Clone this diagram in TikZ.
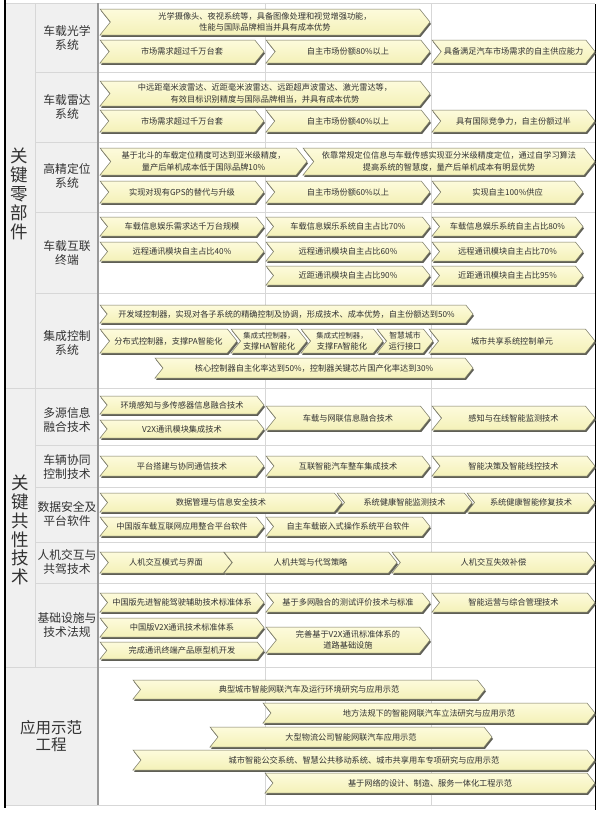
\documentclass[tikz,border=0pt]{standalone}
\usepackage{fontspec}
\setmainfont{Noto Sans CJK SC}
\usetikzlibrary{calc}
\definecolor{chtop}{RGB}{253,251,220}
\definecolor{chbot}{RGB}{244,241,184}
\definecolor{chline}{RGB}{120,120,100}
\definecolor{chshadow}{RGB}{95,95,85}
\definecolor{cellgray}{RGB}{240,240,240}
\definecolor{gridc}{RGB}{215,215,215}
\definecolor{txtc}{RGB}{50,50,50}
\tikzset{
  chshape/.style={top color=chtop, bottom color=chbot, draw=chline, line width=0.5pt, line join=miter},
  chtext/.style={font=\fontsize{8.2}{11.5}\selectfont, text=txtc, align=center, inner sep=0pt},
  catlabel/.style={font=\fontsize{11.8}{14.5}\selectfont, text=txtc, align=center, inner sep=0pt},
  biglabel/.style={font=\fontsize{17.5}{18.9}\selectfont, text=txtc, align=center, inner sep=0pt},
  applabel/.style={font=\fontsize{15.5}{17.5}\selectfont, text=txtc, align=center, inner sep=0pt},
  gridline/.style={draw=gridc, line width=0.8pt},
}
\newcommand\chv[6]{%
  \pgfmathsetmacro\chd{0.4*(#5-#4)}%
  \pgfmathsetmacro\chm{(#4+#5)/2}%
  \fill[chshadow] ({#2+1},{#4+1.9}) -- ({#3-\chd+1},{#4+1.9}) -- ({#3+1},{\chm+1.9}) -- ({#3-\chd+1},{#5+1.9}) -- ({#2+1},{#5+1.9}) -- ({#2+\chd+1},{\chm+1.9}) -- cycle;
  \path[chshape] (#2,#4) -- ({#3-\chd},#4) -- (#3,\chm) -- ({#3-\chd},#5) -- (#2,#5) -- ({#2+\chd},\chm) -- cycle;
  \node[chtext] (#1) at ({(#2+#3)/2},\chm) {#6};
}
\begin{document}
\begin{tikzpicture}[x=1pt,y=-1pt]
\useasboundingbox[fill=white] (0,0) rectangle (600,814);
% backgrounds
\fill[cellgray] (5,3) rectangle (98,805);
% grid
\foreach \yy in {72,142,212,293,445,487,542,583}{\draw[gridline] (35,\yy) -- (595,\yy);}
\foreach \yy in {3,388,667,805}{\draw[gridline] (5,\yy) -- (595,\yy);}
\draw[gridline] (35,3) -- (35,667);
\draw[gridline] (265,3) -- (265,805);
\draw[gridline] (431,3) -- (431,805);
\draw[draw=black!40, line width=1.3pt] (98,3) -- (98,805);
\draw[black, line width=2pt] (4.5,0) -- (4.5,808);
\draw[black, line width=1.6pt] (595.5,4) -- (595.5,810);

% big labels
\node[biglabel] (s1) at (19,194) {关\\键\\零\\部\\件};
\node[biglabel] (s2) at (20,530) {关\\键\\共\\性\\技\\术};
\node[applabel] (s3) at (51,736) {应用示范\\工程};

% category labels
\node[catlabel] (l1) at (67,38) {车载光学\\系统};
\node[catlabel] (l2) at (67,107) {车载雷达\\系统};
\node[catlabel] (l3) at (67,176) {高精定位\\系统};
\node[catlabel] (l4) at (67,253) {车载互联\\终端};
\node[catlabel] (l5) at (67,343) {集成控制\\系统};
\node[catlabel] (l6) at (67,420) {多源信息\\融合技术};
\node[catlabel] (l7) at (67,467) {车辆协同\\控制技术};
\node[catlabel] (l8) at (67,514) {数据安全及\\平台软件};
\node[catlabel] (l9) at (67,562) {人机交互与\\共驾技术};
\node[catlabel] (l10) at (67,625) {基础设施与\\技术法规};

% row 1
\chv{a1}{100}{430}{9}{35}{光学摄像头、夜视系统等，具备图像处理和视觉增强功能，\\性能与国际品牌相当并具有成本优势}
\chv{a2}{100}{264}{40}{63}{市场需求超过千万台套}
\chv{a3}{266}{430}{40}{63}{自主市场份额80\%以上}
\chv{a4}{432}{595}{40}{63}{具备满足汽车市场需求的自主供应能力}
% row 2
\chv{b1}{100}{430}{81}{106}{中远距毫米波雷达、近距毫米波雷达、远距超声波雷达、激光雷达等，\\有效目标识别精度与国际品牌相当，并具有成本优势}
\chv{b2}{100}{264}{110}{132}{市场需求超过千万台套}
\chv{b3}{266}{430}{110}{132}{自主市场份额40\%以上}
\chv{b4}{432}{595}{110}{132}{具有国际竞争力，自主份额过半}
% row 3
\chv{c1}{100}{307}{148}{175}{基于北斗的车载定位精度可达到亚米级精度，\\量产后单机成本低于国际品牌10\%}
\chv{c2}{303}{595}{148}{175}{依靠常规定位信息与车载传感实现亚分米级精度定位，通过自学习算法\\提高系统的智慧度，量产后单机成本有明显优势}
\chv{c3}{100}{264}{181}{203}{实现对现有GPS的替代与升级}
\chv{c4}{266}{430}{181}{203}{自主市场份额60\%以上}
\chv{c5}{432}{583}{181}{203}{实现自主100\%供应}
% row 4
\chv{d1}{100}{264}{217}{236}{车载信息娱乐需求达千万台规模}
\chv{d2}{266}{430}{217}{236}{车载信息娱乐系统自主占比70\%}
\chv{d3}{432}{583}{217}{236}{车载信息娱乐系统自主占比80\%}
\chv{d4}{100}{264}{242}{261}{远程通讯模块自主占比40\%}
\chv{d5}{266}{430}{242}{261}{远程通讯模块自主占比60\%}
\chv{d6}{432}{583}{242}{261}{远程通讯模块自主占比70\%}
\chv{d7}{266}{430}{266}{285}{近距通讯模块自主占比90\%}
\chv{d8}{432}{583}{266}{285}{近距通讯模块自主占比95\%}
% row 5
\chv{e1}{100}{473}{305}{323}{开发域控制器，实现对各子系统的精确控制及协调，形成技术、成本优势，自主份额达到50\%}
\chv{e2}{100}{237}{329}{353}{分布式控制器，支撑PA智能化}
\chv{e3}{231}{307}{329}{353}{\fontsize{7.3}{10}\selectfont 集成式控制器，\\支撑HA智能化}
\chv{e4}{301}{383}{329}{353}{\fontsize{7.3}{10}\selectfont 集成式控制器，\\支撑FA智能化}
\chv{e5}{377}{433}{329}{353}{\fontsize{7.8}{10}\selectfont 智慧城市\\运行接口}
\chv{e6}{429}{595}{329}{353}{城市共享系统控制单元}
\chv{e7}{155}{473}{358}{378}{核心控制器自主化率达到50\%，控制器关键芯片国产化率达到30\%}
% row 6
\chv{f1}{100}{264}{396}{414}{环境感知与多传感器信息融合技术}
\chv{f2}{100}{264}{420}{438}{V2X通讯模块集成技术}
\chv{f3}{266}{430}{406}{430}{车载与网联信息融合技术}
\chv{f4}{432}{595}{406}{430}{感知与在线智能监测技术}
% row 7
\chv{g1}{100}{264}{456}{476}{平台搭建与协同通信技术}
\chv{g2}{266}{430}{456}{476}{互联智能汽车整车集成技术}
\chv{g3}{432}{595}{456}{476}{智能决策及智能线控技术}
% row 8
\chv{h1}{100}{342}{493}{512}{数据管理与信息安全技术}
\chv{h2}{337}{472}{493}{512}{系统健康智能监测技术}
\chv{h3}{467}{595}{493}{512}{系统健康智能修复技术}
\chv{h4}{100}{264}{517}{536}{中国版车载互联网应用整合平台软件}
\chv{h5}{266}{430}{517}{536}{自主车载嵌入式操作系统平台软件}
% row 9
\chv{i1}{100}{232}{552}{573}{人机交互模式与界面}
\chv{i2}{224}{397}{552}{573}{人机共驾与代驾策略}
\chv{i3}{392}{595}{552}{573}{人机交互失效补偿}
% row 10
\chv{j1}{100}{264}{593}{612}{中国版先进智能驾驶辅助技术标准体系}
\chv{j2}{266}{430}{593}{612}{基于多网融合的测试评价技术与标准}
\chv{j3}{432}{595}{593}{612}{智能运营与综合管理技术}
\chv{j4}{100}{264}{618}{637}{中国版V2X通讯技术标准体系}
\chv{j5}{100}{264}{642}{659}{完成通讯终端产品原型机开发}
\chv{j6}{266}{430}{627}{653}{完善基于V2X通讯标准体系的\\道路基础设施}
% row 11
\chv{k1}{133}{485}{680}{699}{典型城市智能网联汽车及运行环境研究与应用示范}
\chv{k2}{263}{595}{703}{723}{地方法规下的智能网联汽车立法研究与应用示范}
\chv{k3}{210}{492}{727}{747}{大型物流公司智能网联汽车应用示范}
\chv{k4}{133}{595}{750}{770}{城市智能公交系统、智慧公共移动系统、城市共享用车专项研究与应用示范}
\chv{k5}{265}{595}{773}{793}{基于网络的设计、制造、服务一体化工程示范}
\end{tikzpicture}
\end{document}
